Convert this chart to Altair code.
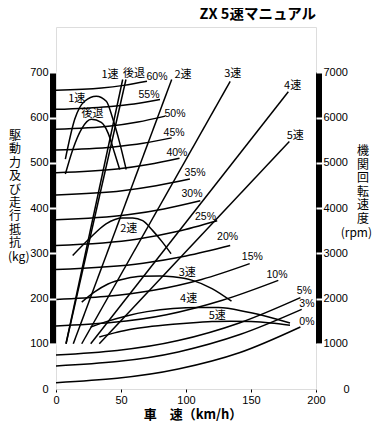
import altair as alt
import pandas as pd

# ---------------- data ----------------
# running resistance curves for each road gradient (speed km/h, force kg)
GRADE_LABELS = ["0%", "3%", "5%", "10%", "15%", "20%", "25%", "30%", "35%", "40%", "45%", "50%", "55%", "60%"]
GRADE_SPEED_MID = [94, 94, 94, 85, 75, 67, 62, 55, 51, 47, 44, 42, 40, 35]
GRADE_SPEED_3Q = [141, 142, 141, 128, 112, 100, 93, 83, 77, 71, 67, 63, 60, 52]
GRADE_SPEED_END = [188, 189, 188, 171, 149, 134, 124, 111, 103, 95, 89, 84, 80, 70]
GRADE_FORCE_START = [14, 51, 75, 139, 198, 264, 317, 374, 429, 478, 528, 574, 618, 660]
GRADE_FORCE_MID = [44, 82, 107, 164, 218, 278, 331, 385, 438, 486, 535, 581, 624, 665]
GRADE_FORCE_3Q = [80, 121, 146, 196, 242, 294, 348, 398, 449, 496, 543, 590, 630, 671]
GRADE_FORCE_END = [137, 176, 202, 240, 277, 317, 372, 416, 464, 510, 555, 603, 640, 680]

# engine speed lines per gear (speed km/h at 1000 rpm, speed and rpm at the top end)
GEARS = ["1速", "後退", "2速", "3速", "4速", "5速"]
RPM_LINE_LOW_RPM = [1000, 1000, 1000, 1000, 1000, 1000]
RPM_LINE_LOW_SPEED = [7.7, 7.7, 13.3, 19.8, 26.7, 33.3]
RPM_LINE_HIGH_SPEED = [51.3, 53.8, 89, 134, 178.7, 179.5]
RPM_LINE_HIGH_RPM = [6840, 6840, 6840, 6800, 6570, 5470]

# driving force curves per gear
HUMP_1_SPEED = [7.2, 14.4, 22, 31, 38.7, 43.8, 49, 54]
HUMP_1_FORCE = [508, 596, 636, 647, 636, 596, 544, 485]
HUMP_R_SPEED = [7.2, 13, 19.5, 27.2, 34.8, 40, 45, 49]
HUMP_R_FORCE = [475, 530, 574, 596, 589, 566, 522, 485]
HUMP_2_SPEED = [12.8, 25.6, 38.5, 51.3, 59, 66.7, 74.4, 82, 88.5]
HUMP_2_FORCE = [295, 332, 365, 378, 378, 372, 350, 324, 299]
HUMP_3_SPEED = [19.8, 30, 40, 54, 65, 80, 90, 105, 120, 135]
HUMP_3_FORCE = [192, 215, 232, 244, 249, 250, 248, 240, 222, 194]
HUMP_4_SPEED = [26.7, 40, 55, 70, 90, 110, 125, 147, 165, 180]
HUMP_4_FORCE = [137, 150, 162, 171, 178, 180, 180, 170, 158, 146]
HUMP_5_SPEED = [33.3, 45, 54, 70, 90, 103, 120, 134, 150, 165, 180]
HUMP_5_FORCE = [115, 124, 130, 137, 143, 146, 149, 150, 149, 146, 141]

# label anchors (speed km/h, force kg)
PCT_LABEL_SPEED = [193, 193, 191, 170, 151, 132, 115, 104.6, 107, 93, 90.8, 91.5, 71.5, 77.7]
PCT_LABEL_FORCE = [147, 187, 216, 253, 291, 337, 381, 431, 478, 522, 566, 607, 649, 689]
GEAR_LABEL_TEXT = ["1速", "後退", "2速", "3速", "4速", "5速", "1速", "後退", "2速", "3速", "4速", "5速"]
GEAR_LABEL_SPEED = [41.5, 60, 97.7, 136, 182, 184, 16, 28, 56, 101, 102, 124]
GEAR_LABEL_FORCE = [693, 696, 693, 696, 669, 559, 640, 607, 354, 257, 198, 161]

FORCE_TICKS = [0, 100, 200, 300, 400, 500, 600, 700]
RPM_TICKS = [0, 1000, 2000, 3000, 4000, 5000, 6000, 7000]
SPEED_TICKS = [0, 50, 100, 150, 200]
BAR_RANGE = [100, 700]

TITLE = "ZX 5速マニュアル"
X_TITLE = "車　速（km/h）"
LEFT_TITLE = "駆\n動\n力\n及\nび\n走\n行\n抵\n抗"
LEFT_UNIT = "(kg)"
RIGHT_TITLE = "機\n関\n回\n転\n速\n度"
RIGHT_UNIT = "(rpm)"

# ---------------- tables ----------------
grade_rows = []
for i, g in enumerate(GRADE_LABELS):
    pts = [(0, GRADE_FORCE_START[i]), (GRADE_SPEED_MID[i], GRADE_FORCE_MID[i]),
           (GRADE_SPEED_3Q[i], GRADE_FORCE_3Q[i]), (GRADE_SPEED_END[i], GRADE_FORCE_END[i])]
    for k, (s, f) in enumerate(pts):
        grade_rows.append({"series": g, "speed": s, "force": f, "order": k})
grade_df = pd.DataFrame(grade_rows)

hump_rows = []
for name, sp, fo in [("1速", HUMP_1_SPEED, HUMP_1_FORCE), ("後退", HUMP_R_SPEED, HUMP_R_FORCE),
                     ("2速", HUMP_2_SPEED, HUMP_2_FORCE), ("3速", HUMP_3_SPEED, HUMP_3_FORCE),
                     ("4速", HUMP_4_SPEED, HUMP_4_FORCE), ("5速", HUMP_5_SPEED, HUMP_5_FORCE)]:
    for k, (s, f) in enumerate(zip(sp, fo)):
        hump_rows.append({"series": name, "speed": s, "force": f, "order": k})
hump_df = pd.DataFrame(hump_rows)

rpm_rows = []
for i, g in enumerate(GEARS):
    rpm_rows.append({"series": g, "speed": RPM_LINE_LOW_SPEED[i], "rpm": RPM_LINE_LOW_RPM[i], "order": 0})
    rpm_rows.append({"series": g, "speed": RPM_LINE_HIGH_SPEED[i], "rpm": RPM_LINE_HIGH_RPM[i], "order": 1})
rpm_df = pd.DataFrame(rpm_rows)

pct_df = pd.DataFrame({"label": GRADE_LABELS, "speed": PCT_LABEL_SPEED, "force": PCT_LABEL_FORCE})
gear_lab_df = pd.DataFrame({"label": GEAR_LABEL_TEXT, "speed": GEAR_LABEL_SPEED, "force": GEAR_LABEL_FORCE})
bar_df = pd.DataFrame({"lo": [BAR_RANGE[0]], "hi": [BAR_RANGE[1]]})
one_df = pd.DataFrame({"k": [0]})

# ---------------- styles ----------------
LATIN = "'Liberation Sans', 'Noto Sans CJK JP', sans-serif"
CJK = "'Noto Sans CJK JP', sans-serif"
W, H = 260, 362

x_enc = alt.X("speed:Q", scale=alt.Scale(domain=[0, 200], nice=False),
              axis=alt.Axis(values=SPEED_TICKS, grid=False, domain=False, tickSize=3,
                            tickColor="black", labelPadding=2, labelFont=LATIN, labelFontSize=11,
                            labelColor="black", labelFlush=False, title=None))

left_axis = alt.Axis(values=FORCE_TICKS, grid=False, domain=False, tickSize=7, tickWidth=2,
                     tickColor="white", labelPadding=1, labelFont=LATIN, labelFontSize=11,
                     labelColor="black", labelFlush=False, zindex=1, title=None)
y_scale = alt.Scale(domain=[0, 800], nice=False)
y_left = alt.Y("force:Q", scale=y_scale, axis=left_axis)

right_axis = alt.Axis(values=RPM_TICKS, orient="right", grid=False, domain=False, tickSize=7,
                      tickWidth=2, tickColor="white", format="d",
                      labelPadding={"condition": {"test": "datum.value === 0", "value": 20}, "value": 0},
                      labelFont=LATIN, labelFontSize=11, labelColor="black", labelFlush=False, zindex=1,
                      title=None)

LW = 1.5
grade_layer = alt.Chart(grade_df).mark_line(color="black", strokeWidth=LW, interpolate="monotone").encode(
    x=x_enc, y=y_left, detail="series:N", order="order:Q")
hump_layer = alt.Chart(hump_df).mark_line(color="black", strokeWidth=LW, interpolate="monotone").encode(
    x=x_enc, y=y_left, detail="series:N", order="order:Q")
pct_layer = alt.Chart(pct_df).mark_text(font=LATIN, fontSize=10.5, color="black").encode(
    x=x_enc, y=y_left, text="label:N")
gear_lab_layer = alt.Chart(gear_lab_df).mark_text(font=CJK, fontSize=11, color="black").encode(
    x=x_enc, y=y_left, text="label:N")
bar_left = alt.Chart(bar_df).mark_rule(color="black", strokeWidth=6, strokeCap="butt").encode(
    x=alt.value(-3), y=alt.Y("lo:Q", scale=y_scale, axis=left_axis), y2="hi:Q")
bar_right = alt.Chart(bar_df).mark_rule(color="black", strokeWidth=6, strokeCap="butt").encode(
    x=alt.value(W + 3), y=alt.Y("lo:Q", scale=y_scale, axis=left_axis), y2="hi:Q")

# titles as text placed around the frame
title_mark = alt.Chart(one_df).mark_text(font=CJK, fontSize=14.5, fontWeight="bold", color="black",
                                         align="right", baseline="middle").encode(
    x=alt.value(W), y=alt.value(-12), text=alt.value(TITLE))
x_title_mark = alt.Chart(one_df).mark_text(font=CJK, fontSize=13, fontWeight="bold", color="black",
                                           align="center", baseline="middle").encode(
    x=alt.value(137), y=alt.value(H + 26), text=alt.value(X_TITLE))
left_title_mark = alt.Chart(one_df).mark_text(font=CJK, fontSize=12, color="black", align="center",
                                              baseline="top", lineBreak="\n", lineHeight=13.4).encode(
    x=alt.value(-41), y=alt.value(104), text=alt.value(LEFT_TITLE))
left_unit_mark = alt.Chart(one_df).mark_text(font=CJK, fontSize=12, color="black", align="left",
                                             baseline="top").encode(
    x=alt.value(-48), y=alt.value(104 + 9 * 13.4), text=alt.value(LEFT_UNIT))
right_title_mark = alt.Chart(one_df).mark_text(font=CJK, fontSize=12, color="black", align="center",
                                               baseline="top", lineBreak="\n", lineHeight=13.6).encode(
    x=alt.value(W + 47), y=alt.value(119), text=alt.value(RIGHT_TITLE))
right_unit_mark = alt.Chart(one_df).mark_text(font=CJK, fontSize=12, color="black", align="right",
                                              baseline="top").encode(
    x=alt.value(W + 56), y=alt.value(119 + 6 * 13.6), text=alt.value(RIGHT_UNIT))

left_group = alt.layer(bar_left, bar_right, grade_layer, hump_layer, pct_layer, gear_lab_layer,
                       title_mark, x_title_mark, left_title_mark, left_unit_mark,
                       right_title_mark, right_unit_mark)

rpm_layer = alt.Chart(rpm_df).mark_line(color="black", strokeWidth=LW).encode(
    x=x_enc,
    y=alt.Y("rpm:Q", scale=alt.Scale(domain=[0, 8000], nice=False), axis=right_axis),
    detail="series:N", order="order:Q")

chart = alt.layer(left_group, rpm_layer).resolve_scale(y="independent").properties(
    width=W, height=H,
    autosize=alt.AutoSizeParams(type="none"),
    padding={"left": 48, "top": 19, "right": 56, "bottom": 33},
).configure_view(stroke="black", strokeWidth=1).configure(background="white")

chart.save("out.html", embed_options={"renderer": "svg", "actions": False})
